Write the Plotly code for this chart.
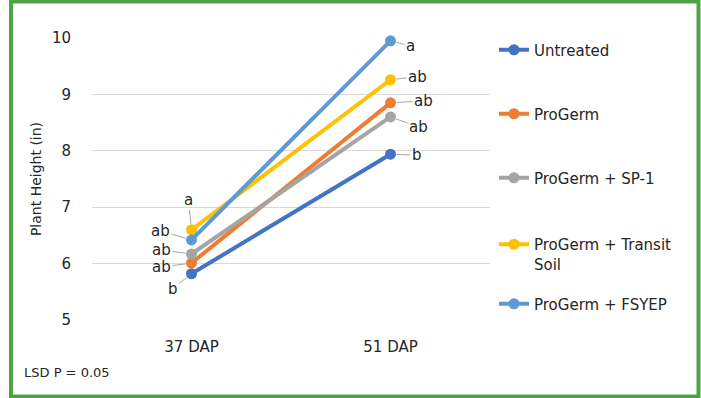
import plotly.graph_objects as go

categories = ["37 DAP", "51 DAP"]
series_names = ["Untreated", "ProGerm", "ProGerm + SP-1", "ProGerm + Transit<br>Soil", "ProGerm + FSYEP"]
colors = ["#4472C4", "#ED7D31", "#A5A5A5", "#FFC000", "#5B9BD5"]
values = [
    [5.82, 7.94],
    [6.01, 8.85],
    [6.17, 8.60],
    [6.60, 9.26],
    [6.42, 9.95],
]
letters = [
    ["b", "b"],
    ["ab", "ab"],
    ["ab", "ab"],
    ["a", "ab"],
    ["ab", "a"],
]
# label offsets (pixels) per series per category
offsets = [
    [(-19, 15), (26, 1)],
    [(-30, 4), (33, -2)],
    [(-30, -4), (28, 10)],
    [(-3, -30), (27, -3)],
    [(-31, -9), (20, 5)],
]

W, H = 701, 398
L, R, T, B = 92, 211, 38, 78
pw, ph = W - L - R, H - T - B

def px_x(x):
    return (x - L) / pw

def px_y(y):
    return (H - B - y) / ph

FONT = "DejaVu Sans"
TXT = "#262626"
fig = go.Figure()
legend_centers = [50, 114, 178, 254, 304]
for i, name in enumerate(series_names):
    lg = "legend" if i == 0 else f"legend{i+1}"
    fig.add_trace(go.Scatter(
        x=categories, y=values[i], name=name, mode="lines+markers",
        line=dict(color=colors[i], width=4),
        marker=dict(color=colors[i], size=11),
        cliponaxis=False, legend=lg,
    ))

annotations = []
for i in range(len(series_names)):
    for j, c in enumerate(categories):
        ax, ay = offsets[i][j]
        annotations.append(dict(
            x=c, y=values[i][j], text=letters[i][j], showarrow=True,
            ax=ax, ay=ay, arrowhead=0, arrowwidth=1, arrowcolor="#A6A6A6",
            standoff=6, font=dict(size=15, color=TXT, family=FONT),
        ))
annotations.append(dict(
    x=px_x(22), y=px_y(372), xref="paper", yref="paper", text="LSD P = 0.05",
    showarrow=False, xanchor="left", yanchor="middle",
    font=dict(size=13, color=TXT, family=FONT),
))

layout_legends = {}
for i in range(len(series_names)):
    key = "legend" if i == 0 else f"legend{i+1}"
    layout_legends[key] = dict(
        x=px_x(494), xanchor="left", y=px_y(legend_centers[i]), yanchor="middle",
        bgcolor="rgba(0,0,0,0)", font=dict(size=15, color=TXT, family=FONT),
        valign="top", itemwidth=30,
    )

fig.update_layout(
    width=W, height=H,
    margin=dict(l=L, r=R, t=T, b=B),
    paper_bgcolor="white", plot_bgcolor="white",
    font=dict(family=FONT, color=TXT),
    showlegend=True,
    annotations=annotations,
    shapes=[dict(
        type="rect", xref="paper", yref="paper",
        x0=px_x(11), x1=px_x(698.5), y0=px_y(396.5), y1=px_y(1.5),
        line=dict(color="#4EA345", width=4), fillcolor="rgba(0,0,0,0)", layer="above",
    )],
    xaxis=dict(
        type="category", range=[-0.5, 1.5], showgrid=False, zeroline=False,
        showline=False, ticks="", tickfont=dict(size=15, color=TXT),
        ticklabelstandoff=16,
    ),
    yaxis=dict(
        range=[5, 10], dtick=1, showgrid=True, gridcolor="#D9D9D9", gridwidth=1,
        zeroline=False, showline=False, ticks="",
        tickfont=dict(size=15, color=TXT), ticklabelstandoff=20,
        title=dict(text="Plant Height (in)", font=dict(size=14, color=TXT), standoff=7),
    ),
    **layout_legends,
)

fig.write_html(
    "out.html",
    config={"displayModeBar": False},
    post_script="document.body.style.margin='0';document.body.style.overflow='hidden';",
)
